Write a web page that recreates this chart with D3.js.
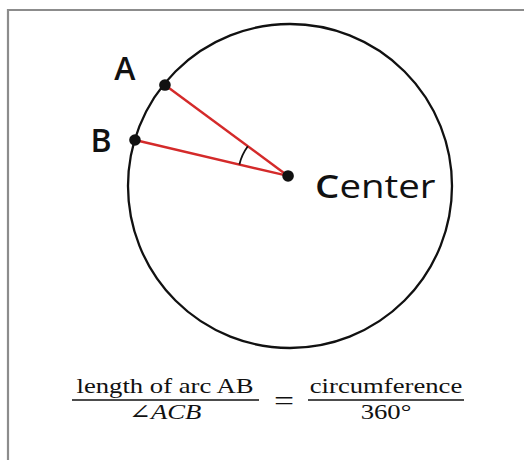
<!DOCTYPE html>
<html lang="en">
<meta charset="utf-8">
<title>Arc length</title>
<head>
<style>
  body { margin: 0; background: #fff; }
</style>
</head>
<body>
  <script src="https://d3js.org/d3.v7.min.js"></script>
  <div id="my_dataviz"></div>
  <script>

    // points on the unit circle diagram (x, y with y going up)
    var pointNames = ["A", "B", "Center"];
    var pointX = [-0.772, -0.957, -0.012];
    var pointY = [0.623, 0.284, 0.062];

    // the formula
    var leftNum = "length of arc AB";
    var leftDen = ["∠", "ACB"];
    var rightNum = "circumference";
    var rightDen = "360°";

    var width = 524, height = 460;

    var svg = d3.select("#my_dataviz")
      .append("svg")
      .attr("width", width)
      .attr("height", height);

    // gray frame on top and left
    svg.append("path")
      .attr("d", "M8,460 V10 H524")
      .attr("fill", "none")
      .attr("stroke", "#8c8c8c")
      .attr("stroke-width", 2.2);

    // scales: unit circle -> pixels
    var r = 162;
    var x = d3.scaleLinear().domain([-1, 1]).range([290 - r, 290 + r]);
    var y = d3.scaleLinear().domain([-1, 1]).range([186 + r, 186 - r]);

    svg.append("circle")
      .attr("cx", x(0))
      .attr("cy", y(0))
      .attr("r", x(1) - x(0))
      .attr("fill", "none")
      .attr("stroke", "#111")
      .attr("stroke-width", 2.3);

    var pts = pointNames.map(function (n, i) {
      return { name: n, px: x(pointX[i]), py: y(pointY[i]) };
    });
    var C = pts[2];

    // red radii
    svg.selectAll(".radius")
      .data(pts.slice(0, 2))
      .enter()
      .append("line")
      .attr("class", "radius")
      .attr("x1", d => d.px)
      .attr("y1", d => d.py)
      .attr("x2", C.px)
      .attr("y2", C.py)
      .attr("stroke", "#d42a2a")
      .attr("stroke-width", 2.4);

    // angle mark at C (short way from CB to CA)
    var angA = Math.atan2(pts[0].py - C.py, pts[0].px - C.px);
    var angB = Math.atan2(pts[1].py - C.py, pts[1].px - C.px);
    var p = d3.path();
    p.arc(C.px, C.py, 50, angB, angA);
    svg.append("path")
      .attr("d", p.toString())
      .attr("fill", "none")
      .attr("stroke", "#111")
      .attr("stroke-width", 1.8);

    // dots
    svg.selectAll(".dot")
      .data(pts)
      .enter()
      .append("circle")
      .attr("class", "dot")
      .attr("cx", d => d.px)
      .attr("cy", d => d.py)
      .attr("r", 5.8)
      .attr("fill", "#111");

    // text squeezed/stretched sideways like the picture
    function wideText(parent, tx, ty, sx) {
      return parent.append("g")
        .attr("transform", "translate(" + tx + "," + ty + ") scale(" + sx + ",1)")
        .append("text");
    }

    // point labels
    var sans = "'Open Sans', Lato, sans-serif";
    wideText(svg, pts[0].px - 40, pts[0].py - 5, 1.0)
      .attr("text-anchor", "middle")
      .attr("font-family", sans).attr("font-weight", 600).attr("font-size", 32)
      .attr("fill", "#111").text(pts[0].name);
    wideText(svg, pts[1].px - 34, pts[1].py + 12, 1.0)
      .attr("text-anchor", "middle")
      .attr("font-family", sans).attr("font-weight", 600).attr("font-size", 32)
      .attr("fill", "#111").text(pts[1].name);
    var ct = wideText(svg, C.px + 27, C.py + 22, 1.2)
      .attr("font-family", sans).attr("font-size", 32)
      .attr("fill", "#111");
    ct.append("tspan").attr("font-weight", 600).text(C.name.slice(0, 1));
    ct.append("tspan").text(C.name.slice(1));

    // formula
    var serif = "'Liberation Serif', 'DejaVu Serif', serif";
    var fs = 21, sx = 1.27;
    function formulaText(tx, ty) {
      return wideText(svg, tx, ty, sx)
        .attr("font-family", serif)
        .attr("font-size", fs)
        .attr("fill", "#111")
        .attr("text-anchor", "middle");
    }

    formulaText(165, 393).text(leftNum);
    svg.append("line").attr("x1", 72).attr("x2", 259).attr("y1", 400).attr("y2", 400)
      .attr("stroke", "#111").attr("stroke-width", 1.3);
    var den = formulaText(165, 419);
    den.append("tspan").text(leftDen[0]);
    den.append("tspan").attr("font-style", "italic").text(leftDen[1]);

    formulaText(284, 410).attr("font-size", 28).text("=");

    formulaText(386, 393).text(rightNum);
    svg.append("line").attr("x1", 308).attr("x2", 464).attr("y1", 400).attr("y2", 400)
      .attr("stroke", "#111").attr("stroke-width", 1.3);
    formulaText(386, 419).text(rightDen);

  </script>
</body>
</html>
